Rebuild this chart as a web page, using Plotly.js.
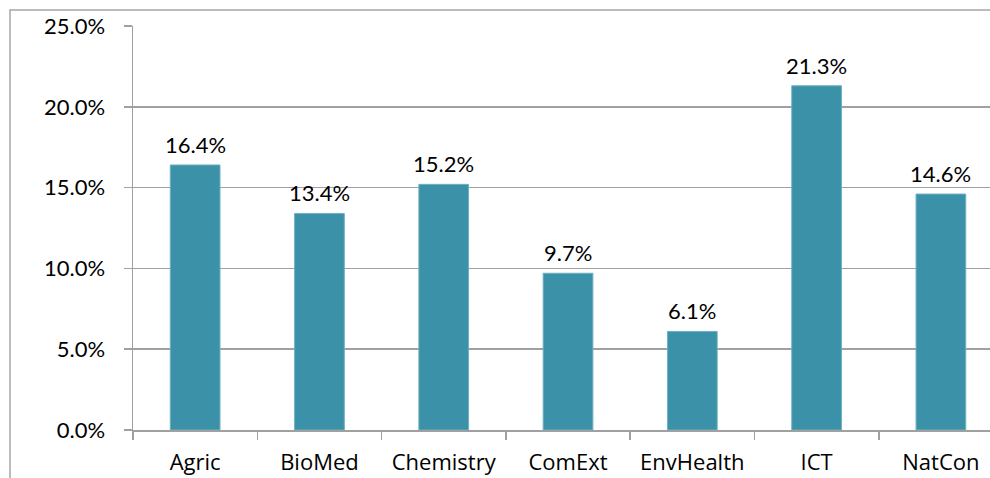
<!DOCTYPE html>
<html>
<head>
<meta charset="utf-8">
<script src="https://cdn.plot.ly/plotly-3.0.1.min.js"></script>
<style>
html,body{margin:0;padding:0;background:#fff;overflow:hidden;}
#chart{width:990px;height:478px;}
</style>
</head>
<body>
<div id="chart"></div>
<script>
const categories = ["Agric", "BioMed", "Chemistry", "ComExt", "EnvHealth", "ICT", "NatCon"];
const shares = [16.4, 13.4, 15.2, 9.7, 6.1, 21.3, 14.6];
const yTicks = [0, 5, 10, 15, 20, 25];

const font = "Lato, 'Open Sans', sans-serif";
const xfont = "'Open Sans', Lato, sans-serif";
const gray = "#A0A0A0";

const trace = {
  type: "bar",
  x: categories,
  y: shares,
  marker: {color: "#3A91A8", line: {color: "#6FB0C2", width: 1}},
  hoverinfo: "skip"
};

const annotations = categories.map((c, i) => ({
  x: c,
  y: shares[i],
  xref: "x", yref: "y",
  text: shares[i].toFixed(1) + "%",
  showarrow: false,
  yanchor: "bottom",
  xanchor: "center",
  yshift: 5,
  font: {family: font, size: 22, color: "#000"}
}));

const layout = {
  width: 990,
  height: 478,
  margin: {l: 133, r: 0, t: 26, b: 48, pad: 0},
  paper_bgcolor: "#fff",
  plot_bgcolor: "#fff",
  showlegend: false,
  bargap: 0.6,
  font: {family: font, size: 22, color: "#000"},
  xaxis: {
    type: "category",
    range: [-0.5, 6.395],
    showgrid: false,
    showline: true,
    linecolor: gray,
    linewidth: 1.5,
    ticks: "outside",
    tickson: "boundaries",
    ticklen: 8,
    tickcolor: gray,
    tickwidth: 1.5,
    ticklabelstandoff: 12,
    tickfont: {family: xfont, size: 22, color: "#000"},
    fixedrange: true
  },
  yaxis: {
    range: [0, 25],
    tickvals: yTicks,
    ticktext: yTicks.map(v => v.toFixed(1) + "%"),
    showgrid: true,
    gridcolor: gray,
    gridwidth: 1.5,
    zeroline: false,
    showline: true,
    linecolor: gray,
    linewidth: 1.5,
    ticks: "outside",
    ticklen: 8,
    tickcolor: gray,
    tickwidth: 1.5,
    ticklabelstandoff: 14,
    tickfont: {family: font, size: 22, color: "#000"},
    fixedrange: true
  },
  annotations: annotations,
  shapes: [{
    type: "rect",
    xref: "paper", yref: "paper",
    x0: (10 - 133) / 857, x1: 1.2,
    y0: -0.3, y1: 1 + (26 - 10) / 404,
    line: {color: "#A6A6A6", width: 1.5},
    fillcolor: "rgba(0,0,0,0)",
    layer: "below"
  }]
};

Plotly.newPlot("chart", [trace], layout, {displayModeBar: false, staticPlot: true});
</script>
</body>
</html>
